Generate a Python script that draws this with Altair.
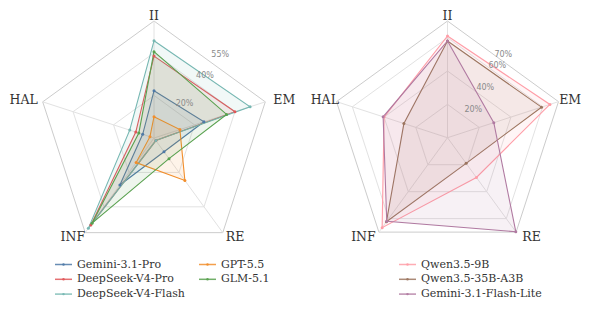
import math
import altair as alt
import pandas as pd

# ---------------- data ----------------
AXES = ["II", "EM", "RE", "INF", "HAL"]

LEFT_MODELS = ["Gemini-3.1-Pro", "DeepSeek-V4-Pro", "DeepSeek-V4-Flash", "GPT-5.5", "GLM-5.1"]
GEMINI_31_PRO = [22.2, 24.7, 8.0, 27.3, 5.6]
DEEPSEEK_V4_PRO = [38.5, 40.0, 1.5, 50.5, 9.0]
DEEPSEEK_V4_FLASH = [45.7, 47.5, 1.5, 52.5, 12.0]
GPT_55 = [10.0, 12.8, 24.7, 14.3, 2.0]
GLM_51 = [40.6, 35.9, 12.0, 49.5, 7.5]
LEFT_COLORS = ["#4e79a7", "#e15759", "#76b7b2", "#f28e2b", "#59a14f"]
LEFT_TICKS = [20, 40, 55]
LEFT_MAX = 55

RIGHT_MODELS = ["Qwen3.5-9B", "Qwen3.5-35B-A3B", "Gemini-3.1-Flash-Lite"]
QWEN35_9B = [61.0, 64.6, 29.5, 66.7, 40.0]
QWEN35_35B_A3B = [58.0, 59.3, 19.0, 62.3, 27.5]
GEMINI_31_FLASH_LITE = [58.0, 29.2, 69.7, 62.0, 40.6]
RIGHT_COLORS = ["#ff9da7", "#9c755f", "#b07aa1"]
RIGHT_TICKS = [20, 40, 60, 70]
RIGHT_MAX = 70

# ---------------- layout ----------------
W, H = 573, 293
SERIF = "DejaVu Serif"
SANS = "DejaVu Sans"

X = lambda f="px": alt.X(f"{f}:Q", scale=alt.Scale(domain=[0, W], range=[0, W], nice=False, zero=False), axis=None)
Y = lambda f="py": alt.Y(f"{f}:Q", scale=alt.Scale(domain=[0, H], range=[0, H], nice=False, zero=False), axis=None)


def radar(models, series, colors, vmax, ticks, geo, tick_line, legend_geo):
    cx, cy, R, rx_side, rx_bot, ry = geo
    ax0, axs, ay0, ays = tick_line
    lx, ly, columns, col_w, row_h = legend_geo
    n_axes = len(AXES)
    ang = f"(datum.i*2*PI/{n_axes})"
    rad = f"(datum.value/{vmax}*{R})"

    rows = []
    for m, vals in zip(models, series):
        for i, v in enumerate(vals):
            rows.append({"model": m, "i": i, "value": v})
    sdf = pd.DataFrame(rows)

    stroke_scale = alt.Scale(domain=models, range=colors)

    base = alt.Chart(sdf).transform_calculate(
        px=f"{cx} + {rad}*sin({ang})", py=f"{cy} - {rad}*cos({ang})"
    )

    polys = base.mark_line(interpolate="linear-closed", strokeWidth=1.1, fillOpacity=0.1).encode(
        x=X(), y=Y(), order="i:Q",
        stroke=alt.Stroke("model:N", scale=stroke_scale, legend=None),
        fill=alt.Fill("model:N", scale=stroke_scale, legend=None),
        detail="model:N",
    )
    pts = base.mark_circle(size=9, opacity=1).encode(
        x=X(), y=Y(),
        fill=alt.Fill("model:N", scale=stroke_scale, legend=None),
    )

    # grid rings
    grows = []
    for t in ticks:
        for i in range(n_axes):
            grows.append({"ring": t, "i": i, "value": t, "outer": t == vmax})
    gdf = pd.DataFrame(grows)
    gbase = alt.Chart(gdf).transform_calculate(
        px=f"{cx} + {rad}*sin({ang})", py=f"{cy} - {rad}*cos({ang})"
    )
    rings_inner = gbase.transform_filter("!datum.outer").mark_line(
        interpolate="linear-closed", strokeWidth=1, color="#e2e2e2"
    ).encode(x=X(), y=Y(), order="i:Q", detail="ring:N")
    rings_outer = gbase.transform_filter("datum.outer").mark_line(
        interpolate="linear-closed", strokeWidth=1, color="#cccccc"
    ).encode(x=X(), y=Y(), order="i:Q", detail="ring:N")

    # spokes
    spdf = pd.DataFrame({"i": list(range(n_axes)), "value": [vmax] * n_axes})
    spokes = alt.Chart(spdf).transform_calculate(
        px=f"{cx}", py=f"{cy}",
        px2=f"{cx} + {rad}*sin({ang})", py2=f"{cy} - {rad}*cos({ang})",
    ).mark_rule(color="#e2e2e2", strokeWidth=1).encode(
        x=X(), y=Y(), x2="px2:Q", y2="py2:Q"
    )

    # axis labels
    ldf = pd.DataFrame({"label": AXES, "i": list(range(n_axes))})
    labels = alt.Chart(ldf).transform_calculate(
        px=f"{cx} + (abs(cos({ang})) > 0.5 ? {rx_bot} : {rx_side})*sin({ang})",
        py=f"{cy} - {ry}*cos({ang})",
    ).mark_text(font=SERIF, fontSize=12.5, color="#333333", align="center", baseline="middle").encode(
        x=X(), y=Y(), text="label:N"
    )

    # radial tick labels
    tdf = pd.DataFrame({"value": ticks, "txt": [f"{t}%" for t in ticks]})
    tlabels = alt.Chart(tdf).transform_calculate(
        px=f"{cx} + {ax0} + {axs}*{rad}", py=f"{cy} + {ay0} + {ays}*{rad}",
    ).mark_text(font=SANS, fontSize=8, color="#8a8a8a", align="center", baseline="middle").encode(
        x=X(), y=Y(), text="txt:N"
    )

    # legend (column-major, like the reference)
    nrows = math.ceil(len(models) / columns)
    legdf = pd.DataFrame({"model": models, "k": list(range(len(models)))})
    lbase = alt.Chart(legdf).transform_calculate(
        row=f"datum.k % {nrows}", col=f"floor(datum.k / {nrows})"
    ).transform_calculate(
        lx0=f"{lx} + datum.col*{col_w}", lx1=f"{lx} + datum.col*{col_w} + 17",
        lxm=f"{lx} + datum.col*{col_w} + 8.5", ltx=f"{lx} + datum.col*{col_w} + 22",
        ly0=f"{ly} + datum.row*{row_h}",
    )
    leg_lines = lbase.mark_rule(strokeWidth=1.5, opacity=0.85).encode(
        x=X("lx0"), x2="lx1:Q", y=Y("ly0"),
        stroke=alt.Stroke("model:N", scale=stroke_scale, legend=None),
    )
    leg_dots = lbase.mark_circle(size=6, opacity=0.9).encode(
        x=X("lxm"), y=Y("ly0"),
        fill=alt.Fill("model:N", scale=stroke_scale, legend=None),
    )
    leg_text = lbase.mark_text(font=SERIF, fontSize=11, color="#333333", align="left", baseline="middle").encode(
        x=X("ltx"), y=Y("ly0"), text="model:N"
    )

    return alt.layer(rings_inner, rings_outer, spokes, polys, pts, tlabels, labels,
                     leg_lines, leg_dots, leg_text)


left = radar(LEFT_MODELS, [GEMINI_31_PRO, DEEPSEEK_V4_PRO, DEEPSEEK_V4_FLASH, GPT_55, GLM_51],
             LEFT_COLORS, LEFT_MAX, LEFT_TICKS,
             (146, 130, 117, 137, 138, 122.5), (10.1, 0.48, -6.5, -0.654),
             (47, 256.5, 2, 144, 14.8))
right = radar(RIGHT_MODELS, [QWEN35_9B, QWEN35_35B_A3B, GEMINI_31_FLASH_LITE],
              RIGHT_COLORS, RIGHT_MAX, RIGHT_TICKS,
              (439.5, 129.7, 116.7, 129, 143, 122.2), (13.8, 0.36, -5.7, -0.66),
              (391, 256.5, 1, 144, 14.8))

chart = alt.layer(left, right).resolve_scale(
    stroke="independent", fill="independent"
).properties(
    width=W, height=H, padding=0, autosize=alt.AutoSizeParams(type="none")
).configure_view(stroke=None)

chart.save("out.html", embed_options={"renderer": "svg", "actions": False})
